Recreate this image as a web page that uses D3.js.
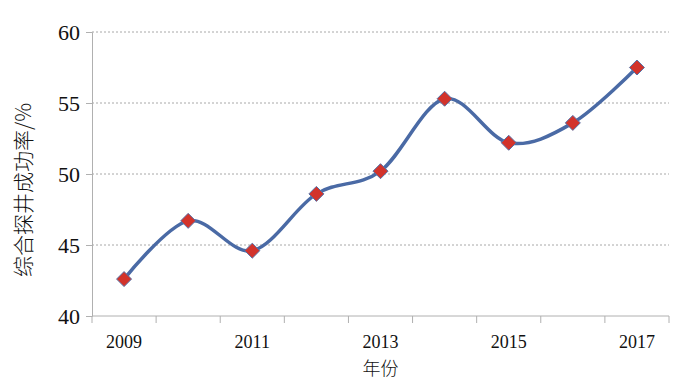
<!DOCTYPE html>
<html>
<head>
<meta charset="utf-8">
<script src="https://cdn.jsdelivr.net/npm/d3@7"></script>
<style>
  body { margin: 0; background: #fff; }
</style>
</head>
<body>
<svg id="chart" width="700" height="383"></svg>
<script>
// data
const years = [2009, 2010, 2011, 2012, 2013, 2014, 2015, 2016, 2017];
const rates = [42.6, 46.7, 44.6, 48.6, 50.2, 55.3, 52.2, 53.6, 57.5];
const yTicks = [40, 45, 50, 55, 60];
const xLabels = [2009, 2011, 2013, 2015, 2017];

const serif = "'Liberation Serif', 'Times New Roman', 'DejaVu Serif', serif";
const cjk = "'Noto Sans CJK SC', 'Noto Sans', sans-serif";

let svg = d3.select("#chart");

let plot = { left: 92, right: 669, top: 32, bottom: 316 };

let x = d3.scaleBand()
    .domain(years)
    .range([plot.left, plot.right]);

let y = d3.scaleLinear()
    .domain([40, 60])
    .range([plot.bottom, plot.top]);

// gridlines
svg.append("g")
    .selectAll("line")
    .data(yTicks.filter(d => d > 40))
    .join("line")
    .attr("x1", plot.left)
    .attr("x2", plot.right)
    .attr("y1", d => y(d))
    .attr("y2", d => y(d))
    .attr("stroke", "#a8a8a8")
    .attr("stroke-width", 1)
    .attr("stroke-dasharray", "2,2");

// y axis
let yAxis = svg.append("g")
    .attr("transform", "translate(" + plot.left + ",0)")
    .call(d3.axisLeft(y).tickValues(yTicks).tickSize(6).tickPadding(6));
yAxis.select(".domain").attr("stroke", "#b0b0b0");
yAxis.selectAll(".tick line").attr("stroke", "#b0b0b0");
yAxis.selectAll(".tick text")
    .style("font-family", serif)
    .style("font-size", "22px")
    .attr("fill", "#111");

// x axis, ticks at band boundaries
let xAxis = svg.append("g")
    .attr("transform", "translate(0," + plot.bottom + ")");
xAxis.append("line")
    .attr("x1", plot.left)
    .attr("x2", plot.right)
    .attr("stroke", "#b0b0b0");
xAxis.selectAll(".tk")
    .data(years.map(d => x(d)).concat([plot.right]))
    .join("line")
    .attr("class", "tk")
    .attr("x1", d => d)
    .attr("x2", d => d)
    .attr("y1", 0)
    .attr("y2", 7)
    .attr("stroke", "#b0b0b0");
xAxis.selectAll("text")
    .data(xLabels)
    .join("text")
    .attr("x", d => x(d) + x.bandwidth() / 2)
    .attr("y", 32)
    .attr("text-anchor", "middle")
    .style("font-family", serif)
    .style("font-size", "18px")
    .attr("fill", "#111")
    .text(d => d);

// axis titles
svg.append("text")
    .attr("x", (plot.left + plot.right) / 2)
    .attr("y", 375)
    .attr("text-anchor", "middle")
    .style("font-family", cjk)
    .style("font-size", "18px")
    .style("font-weight", 300)
    .attr("fill", "#111")
    .text("年份");

svg.append("text")
    .attr("transform", "translate(31,190) rotate(-90)")
    .attr("text-anchor", "middle")
    .style("font-family", cjk)
    .style("font-size", "21px")
    .style("font-weight", 300)
    .attr("fill", "#111")
    .text("综合探井成功率/%");

// smoothed line
let line = d3.line()
    .x((d, i) => x(years[i]) + x.bandwidth() / 2)
    .y(d => y(d))
    .curve(d3.curveCardinal.tension(0));

svg.append("path")
    .datum(rates)
    .attr("d", line)
    .attr("fill", "none")
    .attr("stroke", "#4a6aa5")
    .attr("stroke-width", 3.5);

// diamond markers
svg.append("g")
    .selectAll("path")
    .data(rates)
    .join("path")
    .attr("transform", (d, i) => "translate(" + (x(years[i]) + x.bandwidth() / 2) + "," + y(d) + ")")
    .attr("d", "M0,-7.5L7.5,0L0,7.5L-7.5,0Z")
    .attr("fill", "#d2332b")
    .attr("stroke", "#5572a8")
    .attr("stroke-width", 1);
</script>
</body>
</html>
